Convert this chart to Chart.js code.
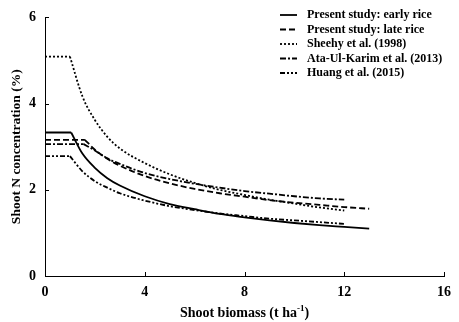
<!DOCTYPE html>
<html>
<head>
<meta charset="utf-8">
<script src="https://cdn.jsdelivr.net/npm/chart.js@4"></script>
<style>
  html, body { margin: 0; padding: 0; background: #fff; }
  #wrap { width: 459px; height: 322px; }
</style>
</head>
<body>
<div id="wrap"><canvas id="chart"></canvas></div>
<script>
// Critical N dilution curves
// biomass in t/ha, N concentration in %
const earlyX = [0, 1.05, 1.5, 2, 2.5, 3, 4, 5, 6, 7, 8, 9, 10, 11, 12, 13];
const earlyN = [3.33, 3.33, 2.84, 2.51, 2.27, 2.10, 1.85, 1.67, 1.55, 1.44, 1.36, 1.29, 1.23, 1.18, 1.14, 1.10];

const lateX = [0, 1.6, 2, 2.5, 3, 4, 5, 6, 7, 8, 9, 10, 11, 12, 13];
const lateN = [3.16, 3.16, 2.93, 2.72, 2.56, 2.32, 2.15, 2.02, 1.92, 1.84, 1.76, 1.70, 1.65, 1.60, 1.56];

const sheehyX = [0, 1, 1.5, 2, 2.5, 3, 4, 5, 6, 7, 8, 9, 10, 11, 12];
const sheehyN = [5.09, 5.09, 4.17, 3.62, 3.23, 2.96, 2.62, 2.36, 2.16, 2.00, 1.88, 1.77, 1.68, 1.59, 1.52];

const ataX = [0, 1.55, 2, 2.5, 3, 4, 5, 6, 7, 8, 9, 10, 11, 12];
const ataN = [3.06, 3.06, 2.91, 2.73, 2.60, 2.39, 2.25, 2.14, 2.05, 1.97, 1.91, 1.85, 1.80, 1.77];

const huangX = [0, 1, 1.5, 2, 2.5, 3, 4, 5, 6, 7, 8, 9, 10, 11, 12];
const huangN = [2.78, 2.78, 2.43, 2.20, 2.05, 1.92, 1.75, 1.62, 1.53, 1.45, 1.39, 1.33, 1.29, 1.25, 1.21];

const seriesLabels = [
  'Present study: early rice',
  'Present study: late rice',
  'Sheehy et al. (1998)',
  'Ata-Ul-Karim et al. (2013)',
  'Huang et al. (2015)'
];
const xTicks = [0, 4, 8, 12, 16];
const yTicks = [0, 2, 4, 6];

const FONT = "'Liberation Serif', 'Times New Roman', serif";

const series = [
  { xs: earlyX,  ys: earlyN,  dash: [],                 width: 1.8 },
  { xs: lateX,   ys: lateN,   dash: [6, 3],             width: 1.8 },
  { xs: sheehyX, ys: sheehyN, dash: [2, 2],             width: 1.8 },
  { xs: ataX,    ys: ataN,    dash: [6, 2, 2, 2],       width: 1.8 },
  { xs: huangX,  ys: huangN,  dash: [5, 2, 2, 2, 2, 2], width: 1.8 }
];

// each curve = flat plateau (straight) + decreasing branch (smooth)
const datasets = [];
series.forEach((s, i) => {
  const pts = s.xs.map((x, j) => ({ x, y: s.ys[j] }));
  const base = {
    borderColor: '#000',
    borderWidth: s.width,
    borderDash: s.dash,
    pointRadius: 0,
    fill: false
  };
  datasets.push({ ...base, label: seriesLabels[i], data: pts.slice(1), cubicInterpolationMode: 'monotone' });
  datasets.push({ ...base, label: '', data: pts.slice(0, 2), tension: 0 });
});

const decor = {
  id: 'decor',
  afterDraw(chart) {
    const { ctx, chartArea: a, scales: { x, y } } = chart;
    ctx.save();
    ctx.strokeStyle = '#000';
    ctx.lineWidth = 1;
    ctx.setLineDash([]);
    // inward tick marks
    xTicks.forEach(v => {
      const px = Math.round(x.getPixelForValue(v)) + 0.5;
      ctx.beginPath(); ctx.moveTo(px, a.bottom); ctx.lineTo(px, a.bottom - 4); ctx.stroke();
    });
    yTicks.forEach(v => {
      const py = Math.round(y.getPixelForValue(v)) + 0.5;
      ctx.beginPath(); ctx.moveTo(a.left, py); ctx.lineTo(a.left + 4, py); ctx.stroke();
    });

    ctx.fillStyle = '#000';
    // y title
    ctx.font = `bold 13.5px ${FONT}`;
    ctx.textAlign = 'center';
    ctx.textBaseline = 'middle';
    ctx.save();
    ctx.translate(17, (a.top + a.bottom) / 2);
    ctx.rotate(-Math.PI / 2);
    ctx.fillText('Shoot N concentration (%)', 0, 0);
    ctx.restore();

    // x title with superscript
    const main = 'Shoot biomass (t ha', sup = '-1', tail = ')';
    ctx.textAlign = 'left';
    ctx.textBaseline = 'alphabetic';
    ctx.font = `bold 14px ${FONT}`;
    const w1 = ctx.measureText(main).width, w3 = ctx.measureText(tail).width;
    ctx.font = `bold 9px ${FONT}`;
    const w2 = ctx.measureText(sup).width;
    let tx = (a.left + a.right) / 2 - (w1 + w2 + w3) / 2;
    const by = 317;
    ctx.font = `bold 14px ${FONT}`;
    ctx.fillText(main, tx, by);
    ctx.font = `bold 9px ${FONT}`;
    ctx.fillText(sup, tx + w1, by - 6);
    ctx.font = `bold 14px ${FONT}`;
    ctx.fillText(tail, tx + w1 + w2, by);

    // legend
    ctx.font = `bold 12px ${FONT}`;
    ctx.textBaseline = 'middle';
    series.forEach((s, i) => {
      const ly = 15 + i * 14.5;
      ctx.lineWidth = s.width;
      ctx.setLineDash(s.dash);
      ctx.beginPath(); ctx.moveTo(280, ly); ctx.lineTo(297, ly); ctx.stroke();
      ctx.fillText(seriesLabels[i], 307, ly);
    });
    ctx.restore();
  }
};

new Chart(document.getElementById('chart').getContext('2d'), {
  type: 'line',
  data: { datasets },
  options: {
    responsive: true,
    maintainAspectRatio: false,
    animation: false,
    layout: { padding: { top: 7, right: 10, left: 0, bottom: 0 } },
    plugins: { legend: { display: false }, tooltip: { enabled: false } },
    scales: {
      x: {
        type: 'linear',
        min: 0, max: 16,
        afterFit: s => { s.height = 46; },
        afterBuildTicks: s => { s.ticks = xTicks.map(v => ({ value: v })); },
        ticks: { color: '#000', padding: 8, font: { family: FONT, size: 14, weight: 'bold' } },
        grid: { display: false, drawTicks: false },
        border: { color: '#000', width: 1 }
      },
      y: {
        min: 0, max: 6,
        afterFit: s => { s.width = 45; },
        afterBuildTicks: s => { s.ticks = yTicks.map(v => ({ value: v })); },
        ticks: { color: '#000', padding: 9, font: { family: FONT, size: 14, weight: 'bold' } },
        grid: { display: false, drawTicks: false },
        border: { color: '#000', width: 1 }
      }
    }
  },
  plugins: [decor]
});
</script>
</body>
</html>
